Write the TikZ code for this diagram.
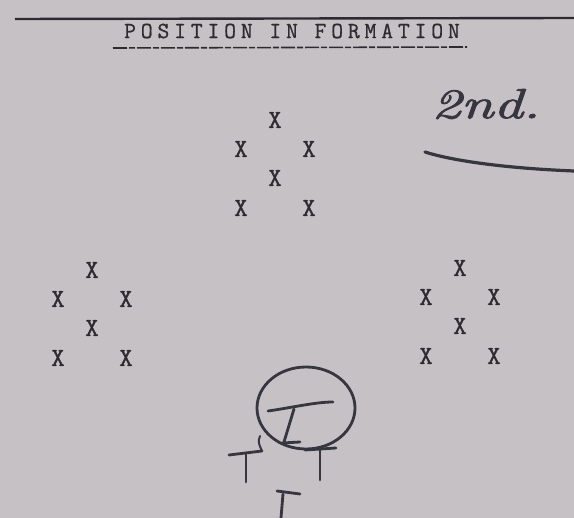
\documentclass[tikz,border=0pt]{standalone}
\usepackage{fontspec}
\newfontfamily\tw{Latin Modern Mono}[FakeBold=1.2]
\newfontfamily\twtitle{Latin Modern Mono}[LetterSpace=21,FakeBold=0.8]
\newfontfamily\hand{Latin Modern Roman}[FakeBold=2]
\definecolor{paper}{RGB}{198,193,197}
\definecolor{ink}{RGB}{45,42,48}
\definecolor{pen}{RGB}{55,53,64}
\begin{document}
\begin{tikzpicture}[x=1pt,y=1pt,
  xmark/.style={text=ink,font=\tw\fontsize{26}{26}\selectfont,inner sep=0pt},
  handline/.style={draw=pen,line width=2.8pt,line cap=round,line join=round}]
\fill[paper] (0,0) rectangle (574,-518);
\useasboundingbox (0,0) rectangle (574,-518);
% top rule
\coordinate (rl) at (15,-19);
\coordinate (rr) at (574,-18);
\draw[ink,line width=2.4pt] (rl) -- (rr);
% title
\node[text=ink,font=\twtitle\fontsize{23}{23}\selectfont,inner sep=0pt] (title) at (292,-31) {POSITION IN FORMATION};
\coordinate (ul) at (113,-48);
\coordinate (ur) at (467,-47);
\draw[ink,line width=1.6pt,dash pattern=on 14pt off 2pt on 6pt off 2pt] (ul) -- (ur);
% formations
\foreach \n/\cx/\cy in {t/275/120, l/92/270, r/460/268}{
  \node[xmark] (\n1) at (\cx,-\cy) {X};
  \node[xmark] (\n2) at (\cx-34,-\cy-29) {X};
  \node[xmark] (\n3) at (\cx+34,-\cy-29) {X};
  \node[xmark] (\n4) at (\cx,-\cy-58) {X};
  \node[xmark] (\n5) at (\cx-34,-\cy-88) {X};
  \node[xmark] (\n6) at (\cx+34,-\cy-88) {X};
}
% 2nd.
\node[text=pen,font=\hand\itshape\fontsize{42}{42}\selectfont,inner sep=0pt,xscale=1.4] (second) at (486,-104) {2nd.};
\coordinate (s1) at (425,-152);
\coordinate (s2) at (574,-171);
\draw[handline,line width=3.2pt] (s1) .. controls (450,-160) and (500,-168) .. (s2);
% circled mark
\coordinate (cc) at (306,-408);
\draw[handline] (cc) ellipse [x radius=49, y radius=41];
\coordinate (c1) at (268,-411);
\coordinate (c2) at (333,-402);
\draw[handline] (c1) .. controls (290,-408) and (315,-402) .. (c2);
\coordinate (c3) at (294,-409);
\coordinate (c4) at (284,-442);
\draw[handline] (c3) -- (c4);
\coordinate (c5) at (282,-443);
\coordinate (c6) at (300,-442);
\draw[handline] (c5) -- (c6);
% T marks
\coordinate (a1) at (229,-455);
\coordinate (a2) at (262,-451);
\coordinate (a3) at (246,-454);
\coordinate (a4) at (246,-482);
\draw[handline] (a1) -- (a2);
\draw[handline] (a3) -- (a4);
\coordinate (b1) at (305,-450);
\coordinate (b2) at (336,-448);
\coordinate (b3) at (320,-449);
\coordinate (b4) at (320,-480);
\draw[handline] (b1) -- (b2);
\draw[handline] (b3) -- (b4);
\coordinate (d1) at (277,-491);
\coordinate (d2) at (300,-494);
\coordinate (d3) at (283,-494);
\coordinate (d4) at (281,-518);
\draw[handline] (d1) -- (d2);
\draw[handline] (d3) -- (d4);
\coordinate (e1) at (260,-436);
\coordinate (e2) at (262,-451);
\draw[handline,line width=2pt] (e1) .. controls (258,-442) .. (e2);
\end{tikzpicture}
\end{document}
